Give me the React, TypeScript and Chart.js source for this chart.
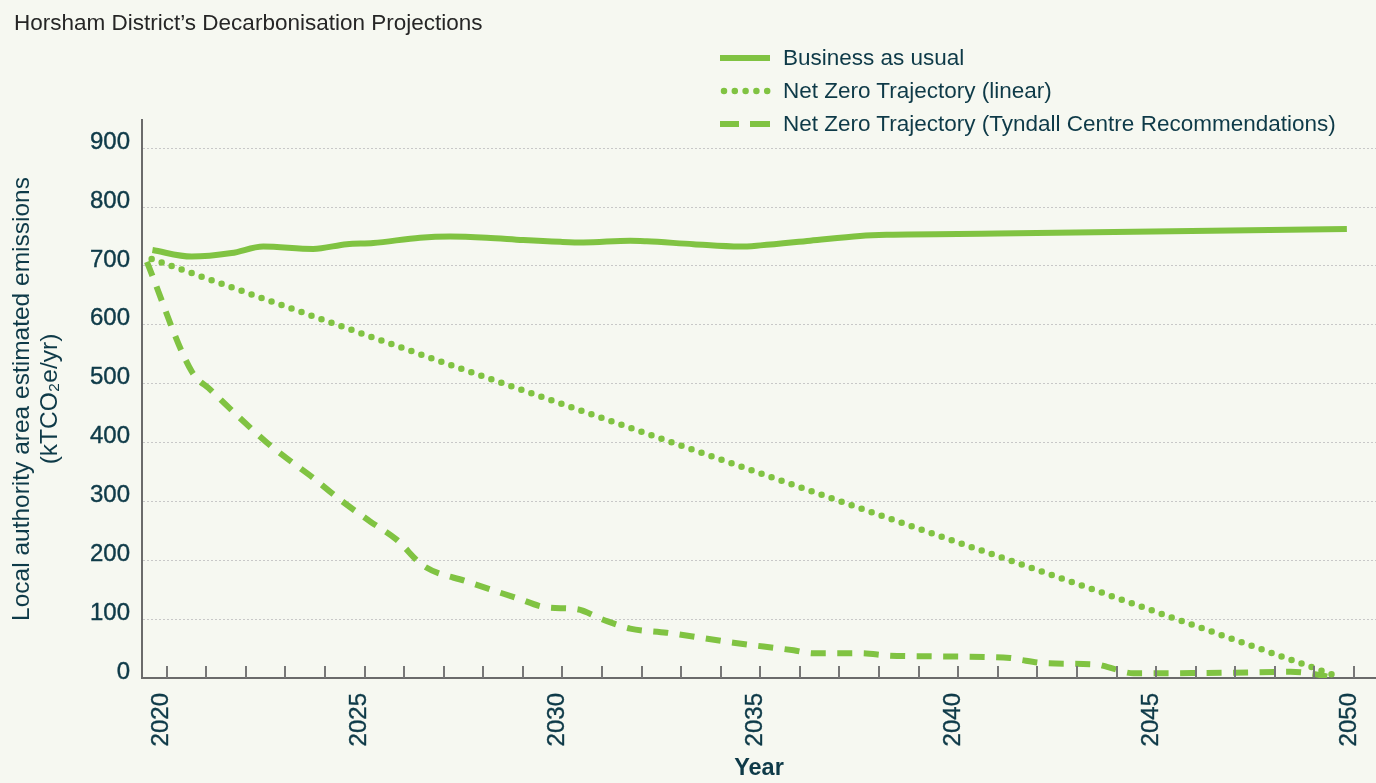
import React, { useEffect, useRef } from "react";
import { Chart, registerables } from "chart.js";

Chart.register(...registerables);

// ---------- text ----------
const TITLE = "Horsham District’s Decarbonisation Projections";
const SERIES_NAMES = [
  "Business as usual",
  "Net Zero Trajectory (linear)",
  "Net Zero Trajectory (Tyndall Centre Recommendations)",
];
const Y_TITLE = ["Local authority area estimated emissions", "(kTCO₂e/yr)"];
const X_TITLE = "Year";

// ---------- ticks ----------
const X_LABEL_YEARS = [2020, 2025, 2030, 2035, 2040, 2045, 2050];
const X_MINOR_YEARS = [
  2020, 2021, 2022, 2023, 2024, 2025, 2026, 2027, 2028, 2029, 2030, 2031, 2032,
  2033, 2034, 2035, 2036, 2037, 2038, 2039, 2040, 2041, 2042, 2043, 2044, 2045,
  2046, 2047, 2048, 2049, 2050,
];
const Y_TICKS = [0, 100, 200, 300, 400, 500, 600, 700, 800, 900];

// ---------- data ----------
const bauYears = [
  2019.64, 2020.63, 2021.64, 2022.44, 2023.7, 2024.55, 2025.22, 2026.4, 2027.16,
  2028.09, 2029.01, 2029.95, 2030.53, 2031.71, 2032.13, 2033.31, 2034.49, 2035.0,
  2036.26, 2037.52, 2038.19, 2041.0, 2049.82,
];
const bauValues = [
  727, 716, 722, 733, 729, 737, 739, 748, 750, 748, 744, 741, 740, 743, 742, 737,
  733, 735, 743, 751, 753, 755, 763,
];

const linearYears = [2019.62, 2027.37, 2043.59, 2049.45];
const linearValues = [712, 527, 146, 6];

const tyndallYears = [
  2019.5, 2020.63, 2021.1, 2022.15, 2022.69, 2023.2, 2023.7, 2024.38, 2025.14,
  2025.81, 2026.48, 2027.58, 2028.84, 2029.6, 2030.36, 2031.03, 2031.71, 2032.63,
  2034.32, 2035.84, 2036.34, 2037.52, 2038.28, 2039.04, 2041.31, 2041.56, 2042.24,
  2043.5, 2043.76, 2044.43, 2046.96, 2048.39, 2048.98, 2049.35,
];
const tyndallValues = [
  707, 521, 490, 423, 391, 365, 340, 303, 266, 235, 191, 164, 136, 120, 117, 99,
  84, 77, 60, 47, 42, 42, 38, 37, 34, 31, 25, 23, 19, 8, 9, 10.5, 7, 2,
];

// ---------- style ----------
const GREEN = "#80c342";
const TEXT = "#0e3a48";
const BG = "#f6f8f1";
const FONT = "'Liberation Sans', Arial, Helvetica, sans-serif";

const toPoints = (xs: number[], ys: number[]) => xs.map((x, i) => ({ x, y: ys[i] }));

const innerTicks = {
  id: "innerTicks",
  afterDraw(chart: any) {
    const { ctx, chartArea, scales } = chart;
    const xs = scales.x;
    ctx.save();
    ctx.strokeStyle = "#777777";
    ctx.lineWidth = 2;
    X_MINOR_YEARS.forEach((yr) => {
      const px = Math.round(xs.getPixelForValue(yr));
      ctx.beginPath();
      ctx.moveTo(px, chartArea.bottom - 12);
      ctx.lineTo(px, chartArea.bottom);
      ctx.stroke();
    });
    ctx.restore();
  },
};

function LegendSample({ kind }: { kind: number }) {
  if (kind === 0) {
    return (
      <svg width="52" height="10" style={{ display: "block" }}>
        <line x1="0" y1="5" x2="50" y2="5" stroke={GREEN} strokeWidth="6" />
      </svg>
    );
  }
  if (kind === 1) {
    return (
      <svg width="52" height="10" style={{ display: "block" }}>
        <line
          x1="4"
          y1="5"
          x2="48"
          y2="5"
          stroke={GREEN}
          strokeWidth="6.5"
          strokeLinecap="round"
          strokeDasharray="0 10.8"
        />
      </svg>
    );
  }
  return (
    <svg width="52" height="10" style={{ display: "block" }}>
      <line x1="0" y1="5" x2="19" y2="5" stroke={GREEN} strokeWidth="6" />
      <line x1="30" y1="5" x2="50" y2="5" stroke={GREEN} strokeWidth="6" />
    </svg>
  );
}

export default function App() {
  const canvasRef = useRef<HTMLCanvasElement | null>(null);

  useEffect(() => {
    document.body.style.margin = "0";
    document.body.style.background = BG;
    const canvas = canvasRef.current;
    if (!canvas) return;

    const chart = new Chart(canvas, {
      type: "line",
      data: {
        datasets: [
          {
            label: SERIES_NAMES[0],
            data: toPoints(bauYears, bauValues),
            borderColor: GREEN,
            borderWidth: 6,
            pointRadius: 0,
            cubicInterpolationMode: "monotone",
            fill: false,
          },
          {
            label: SERIES_NAMES[1],
            data: toPoints(linearYears, linearValues),
            borderColor: GREEN,
            borderWidth: 6.5,
            borderDash: [0, 10.6],
            borderCapStyle: "round",
            pointRadius: 0,
            fill: false,
          },
          {
            label: SERIES_NAMES[2],
            data: toPoints(tyndallYears, tyndallValues),
            borderColor: GREEN,
            borderWidth: 6,
            borderDash: [15, 11.5],
            pointRadius: 0,
            cubicInterpolationMode: "monotone",
            fill: false,
          },
        ],
      } as any,
      options: {
        animation: false,
        responsive: false,
        maintainAspectRatio: false,
        layout: { padding: { top: 120, left: 0, right: 0, bottom: 0 } },
        plugins: {
          legend: { display: false },
          title: { display: false },
          tooltip: { enabled: false },
        },
        scales: {
          x: {
            type: "linear",
            min: 2019.376,
            max: 2050.556,
            afterBuildTicks: (s: any) => {
              s.ticks = X_LABEL_YEARS.map((v) => ({ value: v }));
            },
            afterFit: (s: any) => {
              s.height = 105;
              s.paddingLeft = 0;
              s.paddingRight = 0;
            },
            grid: { display: false, drawTicks: false },
            border: { display: true, color: "#6b6b6b", width: 2 },
            ticks: {
              autoSkip: false,
              maxRotation: 90,
              minRotation: 90,
              padding: 15,
              labelOffset: -5,
              color: TEXT,
              textStrokeColor: TEXT,
              textStrokeWidth: 0.4,
              font: { family: FONT, size: 24 },
              callback: (v: any) => String(v),
            },
            title: {
              display: true,
              text: X_TITLE,
              color: TEXT,
              font: { family: FONT, size: 23.5, weight: "bold" },
              padding: { top: 0, bottom: 0 },
            },
          },
          y: {
            min: 0,
            max: 948,
            afterBuildTicks: (s: any) => {
              s.ticks = Y_TICKS.map((v) => ({ value: v }));
            },
            afterFit: (s: any) => {
              s.width = 142;
              s.paddingTop = 0;
              s.paddingBottom = 0;
            },
            grid: {
              color: (c: any) => (c.tick && c.tick.value === 0 ? "rgba(0,0,0,0)" : "#c8c8c8"),
              lineWidth: 1,
              drawTicks: false,
            },
            border: { display: true, color: "#6b6b6b", width: 2, dash: [2, 2] },
            ticks: {
              padding: 12,
              labelOffset: -6,
              color: TEXT,
              textStrokeColor: TEXT,
              textStrokeWidth: 0.4,
              font: { family: FONT, size: 24 },
              callback: (v: any) => String(v),
            },
            title: {
              display: true,
              text: Y_TITLE,
              color: TEXT,
              font: { family: FONT, size: 24.5, lineHeight: 1.15 },
              padding: { top: 8, bottom: 0 },
            },
          },
        },
      } as any,
      plugins: [innerTicks],
    });

    return () => {
      chart.destroy();
    };
  }, []);

  return (
    <div
      style={{
        position: "relative",
        width: 1376,
        height: 783,
        background: BG,
        overflow: "hidden",
        fontFamily: FONT,
      }}
    >
      <canvas
        ref={canvasRef}
        width={1376}
        height={783}
        style={{ position: "absolute", left: 0, top: 0, width: 1376, height: 783 }}
      />
      <div
        style={{
          position: "absolute",
          left: 14,
          top: 10,
          fontSize: 22.5,
          lineHeight: "26px",
          color: "#262626",
          whiteSpace: "nowrap",
        }}
      >
        {TITLE}
      </div>
      {SERIES_NAMES.map((name, i) => (
        <div
          key={name}
          style={{
            position: "absolute",
            left: 720,
            top: [58, 91, 124][i] - 13,
            height: 26,
            display: "flex",
            alignItems: "center",
            whiteSpace: "nowrap",
          }}
        >
          <LegendSample kind={i} />
          <span style={{ marginLeft: 11, fontSize: 22.5, color: TEXT, lineHeight: "26px" }}>{name}</span>
        </div>
      ))}
    </div>
  );
}
